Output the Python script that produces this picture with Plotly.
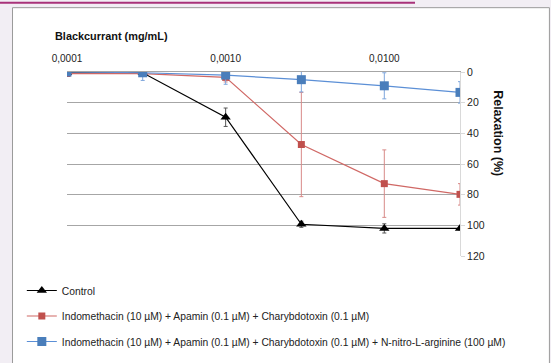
import plotly.graph_objects as go

# Data
conc = [0.0001, 0.0003, 0.001, 0.003, 0.01, 0.03]
tick_vals = [0.0001, 0.001, 0.01]
tick_text = ["0,0001", "0,0010", "0,0100"]

control = [0.5, 0.5, 29.5, 99.3, 102, 102]
control_err = [0.5, 0.5, 6, 2, 3, 1]

inhib = [1, 1, 3.5, 47.3, 72.8, 79.8]
inhib_err = [0.5, 0.5, 3, 34, 22, 7]

inhib_lnna = [0, 0.5, 2, 5, 9, 13.3]
inhib_lnna_err = [0.5, 5, 6, 8, 8.5, 7]

names = [
    "Control",
    "Indomethacin (10 µM) + Apamin (0.1 µM) + Charybdotoxin (0.1 µM)",
    "Indomethacin (10 µM) + Apamin (0.1 µM) + Charybdotoxin (0.1 µM) + N-nitro-L-arginine (100 µM)",
]

y_ticks = [0, 20, 40, 60, 80, 100, 120]
grid_ticks = [20, 40, 60, 80, 100]

fig = go.Figure()

series = [
    (control, control_err, names[0], "#000000", "#000000", "triangle-up", 9, "#555555"),
    (inhib, inhib_err, names[1], "#c0504d", "#d06865", "square", 7, "#d88a88"),
    (inhib_lnna, inhib_lnna_err, names[2], "#4a7ebb", "#5b8fd6", "square", 9, "#7ea6dc"),
]

for i, (vals, err, name, mcol, lcol, sym, size, ecol) in enumerate(series):
    fig.add_trace(go.Scatter(
        x=conc, y=vals, name=name, mode="lines+markers",
        line=dict(color=lcol, width=1.2),
        marker=dict(color=mcol, symbol=sym, size=size),
        error_y=dict(type="data", array=err, visible=True, color=ecol, thickness=1, width=2),
        legendgroup=f"g{i}",
    ))

# invisible trace on second y axis for gridlines
fig.add_trace(go.Scatter(x=[conc[0]], y=[0], yaxis="y2", showlegend=False,
                         mode="markers", marker=dict(opacity=0), hoverinfo="skip"))

fig.update_layout(
    width=551, height=363,
    margin=dict(l=67, r=91, t=71.5, b=107, autoexpand=False),
    paper_bgcolor="#f2eef4",
    plot_bgcolor="rgba(0,0,0,0)",
    font=dict(family="Liberation Sans, Arial, sans-serif", color="#222222"),
    showlegend=True,
    legend=dict(
        xref="container", yref="container",
        x=0.0396, y=0.2397, xanchor="left", yanchor="top",
        font=dict(size=10.3, color="#222222"),
        bgcolor="rgba(0,0,0,0)",
        traceorder="grouped", tracegroupgap=6.5,
        itemwidth=30,
    ),
    xaxis=dict(
        type="log", side="top",
        range=[-4, -1.5229],
        tickvals=tick_vals, ticktext=tick_text,
        tickfont=dict(size=10),
        showgrid=False, zeroline=False,
        showline=True, linecolor="#a6a6a6", linewidth=1,
        ticks="", ticklabelstandoff=5,
    ),
    yaxis=dict(
        range=[120, 0], side="right",
        tickvals=y_ticks,
        tickfont=dict(size=10.5),
        showgrid=False, zeroline=False,
        showline=True, linecolor="#d9d9d9", linewidth=1,
        ticks="outside", ticklen=4, tickcolor="#d9d9d9",
    ),
    yaxis2=dict(
        range=[120, 0], overlaying="y", side="left",
        tickvals=grid_ticks, showticklabels=False,
        showgrid=True, gridcolor="#a6a6a6", gridwidth=1,
        zeroline=False, showline=False,
    ),
    shapes=[
        dict(type="rect", xref="paper", yref="paper",
             x0=-0.1386, x1=1.2275, y0=-0.59, y1=1.3496,
             fillcolor="#ffffff", line=dict(color="#9a9a9a", width=1), layer="below"),
        dict(type="line", xref="paper", yref="paper",
             x0=-0.1705, x1=0.8855, y0=1.3767, y1=1.3767,
             line=dict(color="#a8327a", width=2)),
    ],
    annotations=[
        dict(text="<b>Blackcurrant (mg/mL)</b>", xref="paper", yref="paper",
             x=-0.0356, y=1.195, xanchor="left", yanchor="middle",
             showarrow=False, font=dict(size=10.9, color="#111111")),
        dict(text="<b>Relaxation (%)</b>", xref="paper", yref="paper",
             x=1.097, y=0.667, xanchor="center", yanchor="middle",
             textangle=90, showarrow=False, font=dict(size=12.5, color="#111111")),
    ],
)

fig.write_html("out.html", config={"displayModeBar": False},
               post_script="document.body.style.margin='0';")
